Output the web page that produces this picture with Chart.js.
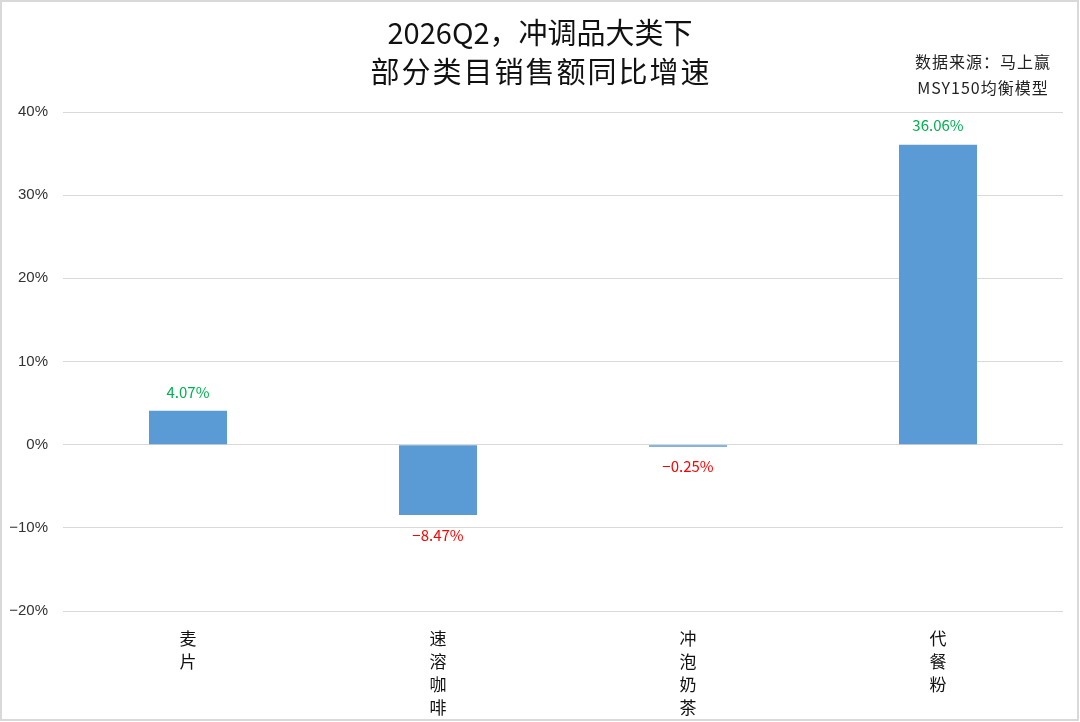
<!DOCTYPE html>
<html>
<head>
<meta charset="utf-8">
<script src="https://cdn.jsdelivr.net/npm/chart.js@4/dist/chart.umd.min.js"></script>
<style>
    html, body { margin: 0; padding: 0; background: #fff; }
    #wrap { width: 1080px; height: 722px; position: relative; }
</style>
</head>
<body>
<div id="wrap"><canvas id="growthChart" width="1080" height="722"></canvas></div>
<script>
// ---- 数据 ----
const categories = ['麦片', '速溶咖啡', '冲泡奶茶', '代餐粉'];
const growthValues = [4.07, -8.47, -0.25, 36.06];
const yTicks = [-20, -10, 0, 10, 20, 30, 40];
const titleLines = ['2026Q2，冲调品大类下', '部分类目销售额同比增速'];
const sourceLines = ['数据来源：马上赢', 'MSY150均衡模型'];

const CJK = '"Noto Sans CJK SC", "Noto Sans", sans-serif';

function fmtPct(v) {
    return (v < 0 ? '\u2212' : '') + Math.abs(v).toFixed(2) + '%';
}

// 标题、来源、数据标签、外框
const decorPlugin = {
    id: 'decor',
    afterDraw(chart) {
        const ctx = chart.ctx;
        ctx.save();
        // 外框
        ctx.strokeStyle = '#d9d9d9';
        ctx.lineWidth = 2;
        ctx.strokeRect(1, 1, 1077, 719);

        // 标题
        ctx.fillStyle = '#111';
        ctx.textAlign = 'center';
        ctx.textBaseline = 'middle';
        ctx.font = '29px ' + CJK;
        ctx.fillText(titleLines[0], 540, 33);
        ctx.letterSpacing = '2px';
        ctx.fillText(titleLines[1], 541, 72);

        // 来源
        ctx.font = '16px ' + CJK;
        ctx.letterSpacing = '1px';
        ctx.fillStyle = '#222';
        ctx.fillText(sourceLines[0], 983, 62);
        ctx.fillText(sourceLines[1], 983, 88);
        ctx.letterSpacing = '0px';

        // 数据标签
        const meta = chart.getDatasetMeta(0);
        ctx.font = '15px ' + CJK;
        meta.data.forEach((bar, i) => {
            const v = growthValues[i];
            if (v >= 0) {
                ctx.fillStyle = '#00b050';
                ctx.fillText(fmtPct(v), bar.x, bar.y - 19);
            } else {
                ctx.fillStyle = '#ff0000';
                ctx.fillText(fmtPct(v), bar.x, bar.y + 20);
            }
        });
        ctx.restore();
    }
};

new Chart(document.getElementById('growthChart'), {
    type: 'bar',
    data: {
        labels: categories.map(c => c.split('')),
        datasets: [{
            data: growthValues,
            backgroundColor: '#5b9bd5',
            borderWidth: 0,
            categoryPercentage: 1,
            barPercentage: 0.312,
        }]
    },
    options: {
        responsive: false,
        animation: false,
        layout: { padding: { top: 112, right: 17, left: 0, bottom: 0 } },
        plugins: {
            legend: { display: false },
            title: { display: false },
            tooltip: { enabled: false },
        },
        scales: {
            x: {
                grid: { display: false },
                border: { display: false },
                ticks: {
                    color: '#111',
                    font: { size: 17, family: CJK, lineHeight: 1.35 },
                    padding: 8,
                    maxRotation: 0,
                    autoSkip: false,
                },
                afterFit: s => { s.height = 111; },
            },
            y: {
                min: -20,
                max: 40,
                afterBuildTicks: s => { s.ticks = yTicks.map(v => ({ value: v })); },
                grid: { color: '#d9d9d9', lineWidth: 1, drawTicks: false },
                border: { display: false },
                ticks: {
                    color: '#333',
                    font: { size: 15, family: '"Liberation Sans", Arial, sans-serif' },
                    padding: 15,
                    callback: v => (v < 0 ? '\u2212' : '') + Math.abs(v) + '%',
                },
                afterFit: s => { s.width = 63; },
            }
        }
    },
    plugins: [decorPlugin]
});
</script>
</body>
</html>
